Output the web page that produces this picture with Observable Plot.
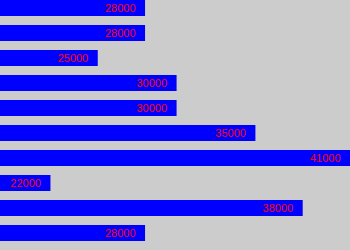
<!DOCTYPE html>
<html>
<head>
<meta charset="utf-8">
<script src="https://cdn.jsdelivr.net/npm/d3@7"></script>
<script src="https://cdn.jsdelivr.net/npm/@observablehq/plot@0.6"></script>
<style>
  html, body { margin: 0; padding: 0; background: #cccccc; }
  #chart svg { display: block; }
</style>
</head>
<body>
<div id="chart"></div>
<script>
const rows = [0, 1, 2, 3, 4, 5, 6, 7, 8, 9];
const values = [28000, 28000, 25000, 30000, 30000, 35000, 41000, 22000, 38000, 28000];
const labels = ["28000", "28000", "25000", "30000", "30000", "35000", "41000", "22000", "38000", "28000"];

const data = rows.map((r, i) => ({row: r, value: values[i], label: labels[i]}));

const chart = Plot.plot({
  width: 350,
  height: 250,
  margin: 0,
  style: {background: "#cccccc", fontFamily: "Liberation Sans, Arial, sans-serif"},
  x: {domain: [18800, 41000], axis: null},
  y: {type: "band", domain: rows, paddingInner: 0.36, paddingOuter: 0.18, align: 0, axis: null},
  marks: [
    Plot.barX(data, {x1: 18800, x2: "value", y: "row", fill: "#0000ff"}),
    Plot.text(data, {x: "value", y: "row", text: "label", fill: "#ff0000", textAnchor: "end", dx: -10, fontSize: 11})
  ]
});
document.getElementById("chart").append(chart);
</script>
</body>
</html>
